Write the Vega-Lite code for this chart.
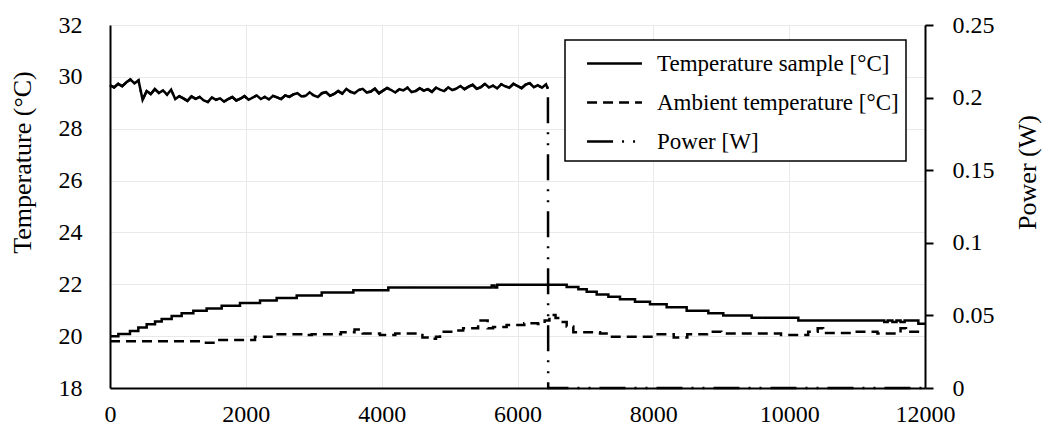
{
  "$schema": "https://vega.github.io/schema/vega-lite/v6.json",
  "width": 815,
  "height": 363,
  "autosize": "none",
  "padding": {"left": 110, "top": 25, "right": 118, "bottom": 53},
  "background": "white",
  "config": {
    "font": "Liberation Serif",
    "view": {"stroke": null},
    "axis": {
      "labelFont": "Liberation Serif",
      "titleFont": "Liberation Serif",
      "labelColor": "#000",
      "titleColor": "#000",
      "labelFontSize": 24,
      "titleFontSize": 26,
      "titleFontWeight": "normal",
      "domainColor": "#000",
      "domainWidth": 2,
      "gridColor": "#e9e9e9",
      "gridWidth": 1,
      "labelFlush": false
    }
  },
  "datasets": {
    "temp": [
      {"t": 0, "s": "Temperature sample [°C]", "v": 20.0},
      {"t": 123, "s": "Temperature sample [°C]", "v": 20.08},
      {"t": 294, "s": "Temperature sample [°C]", "v": 20.2},
      {"t": 417, "s": "Temperature sample [°C]", "v": 20.33},
      {"t": 540, "s": "Temperature sample [°C]", "v": 20.46},
      {"t": 663, "s": "Temperature sample [°C]", "v": 20.56},
      {"t": 761, "s": "Temperature sample [°C]", "v": 20.66},
      {"t": 908, "s": "Temperature sample [°C]", "v": 20.78},
      {"t": 1055, "s": "Temperature sample [°C]", "v": 20.88},
      {"t": 1227, "s": "Temperature sample [°C]", "v": 20.98},
      {"t": 1423, "s": "Temperature sample [°C]", "v": 21.07},
      {"t": 1644, "s": "Temperature sample [°C]", "v": 21.17},
      {"t": 1914, "s": "Temperature sample [°C]", "v": 21.28},
      {"t": 2209, "s": "Temperature sample [°C]", "v": 21.37},
      {"t": 2454, "s": "Temperature sample [°C]", "v": 21.47},
      {"t": 2749, "s": "Temperature sample [°C]", "v": 21.57},
      {"t": 3117, "s": "Temperature sample [°C]", "v": 21.68},
      {"t": 3583, "s": "Temperature sample [°C]", "v": 21.77},
      {"t": 4098, "s": "Temperature sample [°C]", "v": 21.88},
      {"t": 5620, "s": "Temperature sample [°C]", "v": 21.95},
      {"t": 5660, "s": "Temperature sample [°C]", "v": 21.88},
      {"t": 5700, "s": "Temperature sample [°C]", "v": 21.98},
      {"t": 6724, "s": "Temperature sample [°C]", "v": 21.9},
      {"t": 6896, "s": "Temperature sample [°C]", "v": 21.81},
      {"t": 7019, "s": "Temperature sample [°C]", "v": 21.71},
      {"t": 7166, "s": "Temperature sample [°C]", "v": 21.61},
      {"t": 7338, "s": "Temperature sample [°C]", "v": 21.52},
      {"t": 7509, "s": "Temperature sample [°C]", "v": 21.42},
      {"t": 7730, "s": "Temperature sample [°C]", "v": 21.33},
      {"t": 7951, "s": "Temperature sample [°C]", "v": 21.23},
      {"t": 8196, "s": "Temperature sample [°C]", "v": 21.11},
      {"t": 8491, "s": "Temperature sample [°C]", "v": 20.98},
      {"t": 8810, "s": "Temperature sample [°C]", "v": 20.88},
      {"t": 9030, "s": "Temperature sample [°C]", "v": 20.8},
      {"t": 9448, "s": "Temperature sample [°C]", "v": 20.71},
      {"t": 10135, "s": "Temperature sample [°C]", "v": 20.6},
      {"t": 11400, "s": "Temperature sample [°C]", "v": 20.55},
      {"t": 11450, "s": "Temperature sample [°C]", "v": 20.6},
      {"t": 11520, "s": "Temperature sample [°C]", "v": 20.55},
      {"t": 11580, "s": "Temperature sample [°C]", "v": 20.6},
      {"t": 11640, "s": "Temperature sample [°C]", "v": 20.55},
      {"t": 11700, "s": "Temperature sample [°C]", "v": 20.6},
      {"t": 11902, "s": "Temperature sample [°C]", "v": 20.48},
      {"t": 12000, "s": "Temperature sample [°C]", "v": 20.48},
      {"t": 0, "s": "Ambient temperature [°C]", "v": 19.8},
      {"t": 1350, "s": "Ambient temperature [°C]", "v": 19.75},
      {"t": 1590, "s": "Ambient temperature [°C]", "v": 19.85},
      {"t": 2135, "s": "Ambient temperature [°C]", "v": 19.98},
      {"t": 2430, "s": "Ambient temperature [°C]", "v": 20.07},
      {"t": 2900, "s": "Ambient temperature [°C]", "v": 20.04},
      {"t": 2970, "s": "Ambient temperature [°C]", "v": 20.07},
      {"t": 3400, "s": "Ambient temperature [°C]", "v": 20.15},
      {"t": 3600, "s": "Ambient temperature [°C]", "v": 20.26},
      {"t": 3720, "s": "Ambient temperature [°C]", "v": 20.1},
      {"t": 3975, "s": "Ambient temperature [°C]", "v": 20.04},
      {"t": 4200, "s": "Ambient temperature [°C]", "v": 20.1},
      {"t": 4600, "s": "Ambient temperature [°C]", "v": 19.95},
      {"t": 4712, "s": "Ambient temperature [°C]", "v": 19.9},
      {"t": 4800, "s": "Ambient temperature [°C]", "v": 19.98},
      {"t": 4859, "s": "Ambient temperature [°C]", "v": 20.17},
      {"t": 5100, "s": "Ambient temperature [°C]", "v": 20.22},
      {"t": 5200, "s": "Ambient temperature [°C]", "v": 20.3},
      {"t": 5420, "s": "Ambient temperature [°C]", "v": 20.6},
      {"t": 5560, "s": "Ambient temperature [°C]", "v": 20.3},
      {"t": 5640, "s": "Ambient temperature [°C]", "v": 20.35},
      {"t": 5840, "s": "Ambient temperature [°C]", "v": 20.43},
      {"t": 6100, "s": "Ambient temperature [°C]", "v": 20.5},
      {"t": 6300, "s": "Ambient temperature [°C]", "v": 20.47},
      {"t": 6400, "s": "Ambient temperature [°C]", "v": 20.6},
      {"t": 6470, "s": "Ambient temperature [°C]", "v": 20.82},
      {"t": 6560, "s": "Ambient temperature [°C]", "v": 20.7},
      {"t": 6626, "s": "Ambient temperature [°C]", "v": 20.55},
      {"t": 6724, "s": "Ambient temperature [°C]", "v": 20.37},
      {"t": 6822, "s": "Ambient temperature [°C]", "v": 20.15},
      {"t": 7215, "s": "Ambient temperature [°C]", "v": 20.1},
      {"t": 7362, "s": "Ambient temperature [°C]", "v": 19.98},
      {"t": 8025, "s": "Ambient temperature [°C]", "v": 20.07},
      {"t": 8300, "s": "Ambient temperature [°C]", "v": 19.95},
      {"t": 8500, "s": "Ambient temperature [°C]", "v": 20.07},
      {"t": 8790, "s": "Ambient temperature [°C]", "v": 20.17},
      {"t": 9000, "s": "Ambient temperature [°C]", "v": 20.1},
      {"t": 9880, "s": "Ambient temperature [°C]", "v": 20.04},
      {"t": 10280, "s": "Ambient temperature [°C]", "v": 20.17},
      {"t": 10420, "s": "Ambient temperature [°C]", "v": 20.3},
      {"t": 10500, "s": "Ambient temperature [°C]", "v": 20.12},
      {"t": 10960, "s": "Ambient temperature [°C]", "v": 20.17},
      {"t": 11300, "s": "Ambient temperature [°C]", "v": 20.1},
      {"t": 11640, "s": "Ambient temperature [°C]", "v": 20.3},
      {"t": 11720, "s": "Ambient temperature [°C]", "v": 20.17},
      {"t": 12000, "s": "Ambient temperature [°C]", "v": 20.17}
    ],
    "power": [
      {"t": 0, "s": "Power [W]", "p": 0.2085},
      {"t": 60, "s": "Power [W]", "p": 0.207},
      {"t": 120, "s": "Power [W]", "p": 0.2095},
      {"t": 180, "s": "Power [W]", "p": 0.2078},
      {"t": 240, "s": "Power [W]", "p": 0.2105},
      {"t": 300, "s": "Power [W]", "p": 0.2125},
      {"t": 360, "s": "Power [W]", "p": 0.2098},
      {"t": 420, "s": "Power [W]", "p": 0.2118},
      {"t": 480, "s": "Power [W]", "p": 0.1985},
      {"t": 540, "s": "Power [W]", "p": 0.2045},
      {"t": 600, "s": "Power [W]", "p": 0.2025},
      {"t": 660, "s": "Power [W]", "p": 0.2058},
      {"t": 720, "s": "Power [W]", "p": 0.2032},
      {"t": 780, "s": "Power [W]", "p": 0.205},
      {"t": 840, "s": "Power [W]", "p": 0.202},
      {"t": 900, "s": "Power [W]", "p": 0.2055},
      {"t": 960, "s": "Power [W]", "p": 0.199},
      {"t": 1020, "s": "Power [W]", "p": 0.201},
      {"t": 1080, "s": "Power [W]", "p": 0.1995},
      {"t": 1140, "s": "Power [W]", "p": 0.1978},
      {"t": 1200, "s": "Power [W]", "p": 0.2008},
      {"t": 1260, "s": "Power [W]", "p": 0.1992},
      {"t": 1320, "s": "Power [W]", "p": 0.2005},
      {"t": 1380, "s": "Power [W]", "p": 0.198},
      {"t": 1440, "s": "Power [W]", "p": 0.197},
      {"t": 1500, "s": "Power [W]", "p": 0.2002},
      {"t": 1560, "s": "Power [W]", "p": 0.1985},
      {"t": 1620, "s": "Power [W]", "p": 0.1995},
      {"t": 1680, "s": "Power [W]", "p": 0.1972},
      {"t": 1740, "s": "Power [W]", "p": 0.199},
      {"t": 1800, "s": "Power [W]", "p": 0.2004},
      {"t": 1860, "s": "Power [W]", "p": 0.198},
      {"t": 1920, "s": "Power [W]", "p": 0.1992},
      {"t": 1980, "s": "Power [W]", "p": 0.201},
      {"t": 2040, "s": "Power [W]", "p": 0.1985},
      {"t": 2100, "s": "Power [W]", "p": 0.2},
      {"t": 2160, "s": "Power [W]", "p": 0.2015},
      {"t": 2220, "s": "Power [W]", "p": 0.199},
      {"t": 2280, "s": "Power [W]", "p": 0.2005},
      {"t": 2340, "s": "Power [W]", "p": 0.1988},
      {"t": 2400, "s": "Power [W]", "p": 0.2012},
      {"t": 2460, "s": "Power [W]", "p": 0.2002},
      {"t": 2520, "s": "Power [W]", "p": 0.199},
      {"t": 2580, "s": "Power [W]", "p": 0.2015},
      {"t": 2640, "s": "Power [W]", "p": 0.2005},
      {"t": 2700, "s": "Power [W]", "p": 0.2022},
      {"t": 2760, "s": "Power [W]", "p": 0.203},
      {"t": 2820, "s": "Power [W]", "p": 0.2008},
      {"t": 2880, "s": "Power [W]", "p": 0.2012},
      {"t": 2940, "s": "Power [W]", "p": 0.2036},
      {"t": 3000, "s": "Power [W]", "p": 0.2015},
      {"t": 3060, "s": "Power [W]", "p": 0.2004},
      {"t": 3120, "s": "Power [W]", "p": 0.203},
      {"t": 3180, "s": "Power [W]", "p": 0.2038},
      {"t": 3240, "s": "Power [W]", "p": 0.2012},
      {"t": 3300, "s": "Power [W]", "p": 0.2025},
      {"t": 3360, "s": "Power [W]", "p": 0.2045},
      {"t": 3420, "s": "Power [W]", "p": 0.2028},
      {"t": 3480, "s": "Power [W]", "p": 0.206},
      {"t": 3540, "s": "Power [W]", "p": 0.204},
      {"t": 3600, "s": "Power [W]", "p": 0.203},
      {"t": 3660, "s": "Power [W]", "p": 0.2052},
      {"t": 3720, "s": "Power [W]", "p": 0.206},
      {"t": 3780, "s": "Power [W]", "p": 0.2035},
      {"t": 3840, "s": "Power [W]", "p": 0.2042},
      {"t": 3900, "s": "Power [W]", "p": 0.2062},
      {"t": 3960, "s": "Power [W]", "p": 0.203},
      {"t": 4020, "s": "Power [W]", "p": 0.2048},
      {"t": 4080, "s": "Power [W]", "p": 0.2066},
      {"t": 4140, "s": "Power [W]", "p": 0.2052},
      {"t": 4200, "s": "Power [W]", "p": 0.2035},
      {"t": 4260, "s": "Power [W]", "p": 0.2058},
      {"t": 4320, "s": "Power [W]", "p": 0.205},
      {"t": 4380, "s": "Power [W]", "p": 0.2068},
      {"t": 4440, "s": "Power [W]", "p": 0.2038},
      {"t": 4500, "s": "Power [W]", "p": 0.2045},
      {"t": 4560, "s": "Power [W]", "p": 0.2065},
      {"t": 4620, "s": "Power [W]", "p": 0.2048},
      {"t": 4680, "s": "Power [W]", "p": 0.2058},
      {"t": 4740, "s": "Power [W]", "p": 0.204},
      {"t": 4800, "s": "Power [W]", "p": 0.2068},
      {"t": 4860, "s": "Power [W]", "p": 0.2055},
      {"t": 4920, "s": "Power [W]", "p": 0.2045},
      {"t": 4980, "s": "Power [W]", "p": 0.207},
      {"t": 5040, "s": "Power [W]", "p": 0.2052},
      {"t": 5100, "s": "Power [W]", "p": 0.2062},
      {"t": 5160, "s": "Power [W]", "p": 0.208},
      {"t": 5220, "s": "Power [W]", "p": 0.2058},
      {"t": 5280, "s": "Power [W]", "p": 0.2075},
      {"t": 5340, "s": "Power [W]", "p": 0.2088},
      {"t": 5400, "s": "Power [W]", "p": 0.206},
      {"t": 5460, "s": "Power [W]", "p": 0.2072},
      {"t": 5520, "s": "Power [W]", "p": 0.2095},
      {"t": 5580, "s": "Power [W]", "p": 0.207},
      {"t": 5640, "s": "Power [W]", "p": 0.2082},
      {"t": 5700, "s": "Power [W]", "p": 0.2064},
      {"t": 5760, "s": "Power [W]", "p": 0.2092},
      {"t": 5820, "s": "Power [W]", "p": 0.2078},
      {"t": 5880, "s": "Power [W]", "p": 0.2068},
      {"t": 5940, "s": "Power [W]", "p": 0.2095},
      {"t": 6000, "s": "Power [W]", "p": 0.208},
      {"t": 6060, "s": "Power [W]", "p": 0.2065},
      {"t": 6120, "s": "Power [W]", "p": 0.209},
      {"t": 6180, "s": "Power [W]", "p": 0.21},
      {"t": 6240, "s": "Power [W]", "p": 0.2072},
      {"t": 6300, "s": "Power [W]", "p": 0.2085},
      {"t": 6360, "s": "Power [W]", "p": 0.2068},
      {"t": 6420, "s": "Power [W]", "p": 0.2092},
      {"t": 6448, "s": "Power [W]", "p": 0.206},
      {"t": 6452, "s": "Power [W]", "p": 0},
      {"t": 12000, "s": "Power [W]", "p": 0}
    ]
  },
  "layer": [
    {
      "data": {"name": "temp"},
      "mark": {"type": "line", "color": "#000", "strokeWidth": 2.5, "interpolate": "step-after"},
      "encoding": {
        "x": {
          "field": "t", "type": "quantitative",
          "scale": {"domain": [0, 12000], "nice": false},
          "axis": {"title": null, "values": [0, 2000, 4000, 6000, 8000, 10000, 12000], "format": "d", "ticks": false, "tickSize": 0, "labelPadding": 14, "grid": true}
        },
        "y": {
          "field": "v", "type": "quantitative",
          "scale": {"domain": [18, 32], "nice": false, "zero": false},
          "axis": {
            "title": "Temperature (°C)", "values": [18, 20, 22, 24, 26, 28, 30, 32], "ticks": false, "tickSize": 0, "labelPadding": 28, "grid": true,
            "titleAngle": 270, "titleX": -88, "titleY": 137, "titleBaseline": "middle", "titleAlign": "center"
          }
        },
        "strokeDash": {
          "field": "s", "type": "nominal",
          "scale": {
            "domain": ["Temperature sample [°C]", "Ambient temperature [°C]", "Power [W]"],
            "range": [[1, 0], [10, 6], [26, 9, 2, 9, 2, 9]]
          },
          "legend": {
            "title": null, "orient": "none", "legendX": 455, "legendY": 15,
            "symbolType": "M-1.83,0H1.83", "symbolSize": 900, "symbolStrokeWidth": 2.5, "symbolStrokeColor": "#000",
            "labelFont": "Liberation Serif", "labelFontSize": 23, "labelColor": "#000", "labelLimit": 400, "labelOffset": 4,
            "rowPadding": 10, "padding": 7, "strokeColor": "#000", "fillColor": "#fff",
            "encode": {
              "legend": {"update": {"strokeWidth": {"value": 1.5}}},
              "symbols": {"update": {"x": {"value": 42.5}}},
              "labels": {"update": {"x": {"value": 85}}}
            }
          }
        }
      }
    },
    {
      "data": {"name": "power"},
      "mark": {"type": "line", "color": "#000", "strokeWidth": 2.5},
      "encoding": {
        "x": {"field": "t", "type": "quantitative"},
        "y": {
          "field": "p", "type": "quantitative",
          "scale": {"domain": [0, 0.25], "nice": false},
          "axis": {
            "orient": "right", "title": "Power (W)", "values": [0, 0.05, 0.1, 0.15, 0.2, 0.25], "format": "~g",
            "grid": false, "ticks": true, "tickSize": 8, "tickWidth": 2, "tickColor": "#000", "labelPadding": 19,
            "titleAngle": 270, "titleX": 102, "titleY": 147, "titleBaseline": "middle", "titleAlign": "center"
          }
        },
        "strokeDash": {"field": "s", "type": "nominal"}
      }
    },
    {
      "data": {"name": "power"},
      "transform": [{"filter": "datum.t < 6450"}],
      "mark": {"type": "line", "color": "#000", "strokeWidth": 2.5},
      "encoding": {
        "x": {"field": "t", "type": "quantitative"},
        "y": {"field": "p", "type": "quantitative", "scale": {"domain": [0, 0.25], "nice": false}, "axis": null}
      }
    }
  ],
  "resolve": {"scale": {"y": "independent"}}
}
